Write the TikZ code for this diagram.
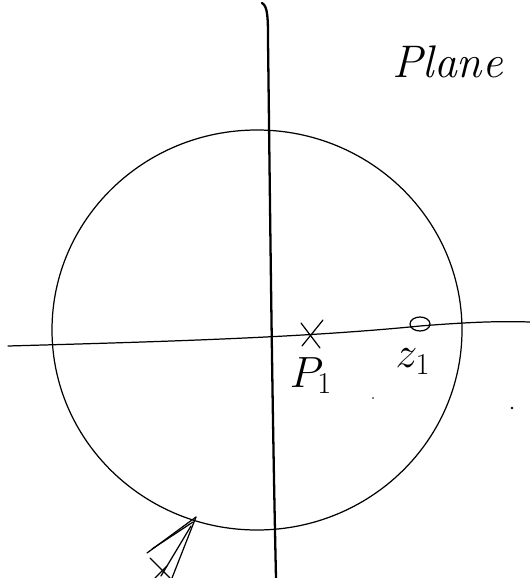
\documentclass[tikz,border=0pt]{standalone}
\usepackage{amsmath,amssymb}
\usepackage{xcolor}
\usepackage{tikz}
\usetikzlibrary{arrows.meta, positioning}

\begin{document}
\begin{tikzpicture}[
  x=0.02cm, y=-0.02cm,
  axis/.style={draw, line width=0.9pt, line cap=round},
  pen/.style={draw, line width=0.7pt, line cap=round},
  lbl/.style={font=\fontsize{26}{26}\selectfont, inner sep=0pt}
]
  \useasboundingbox (0,0) rectangle (530,578);

  % unit circle
  \draw[pen] (257,330) ellipse [x radius=205, y radius=200];

  % axes
  \draw[axis, line width=1.3pt] (262,3) .. controls (268,6) and (268,20) .. (268,40)
    .. controls (270,200) and (272,400) .. (276,578);
  \draw[pen] (8,346) .. controls (150,342) and (300,338) .. (420,326)
    .. controls (470,322) and (500,321) .. (530,322);

  % pole
  \coordinate (pole) at (311,336);
  \draw[pen] ([shift={(-10,-13)}]pole) -- ([shift={(9,12)}]pole);
  \draw[pen] ([shift={(-9,10)}]pole) -- ([shift={(12,-16)}]pole);
  \node[lbl, below=12pt of pole] (polelbl) {$P_1$};

  % zero
  \coordinate (zero) at (420,324);
  \draw[pen] (zero) ellipse [x radius=10, y radius=7];
  \node[lbl, below=14pt of zero, xshift=-4pt] (zerolbl) {$z_1$};

  % title
  \node[lbl, anchor=west] (plane) at (392,62) {\textit{Plane}};

  % specks
  \fill (512,408) circle (1.3);
  \fill (373,398) circle (0.8);

  % sketch at bottom left
  \coordinate (tip) at (196,517);
  \draw[pen] (tip) -- (147,553);
  \draw[pen] (193,522) -- (152,549);
  \draw[pen] (191,526) -- (161,576);
  \draw[pen] (tip) -- (172,578);
  \draw[pen] (150,558) -- (170,578);
  \draw[pen] (155,578) -- (167,566);
\end{tikzpicture}
\end{document}
